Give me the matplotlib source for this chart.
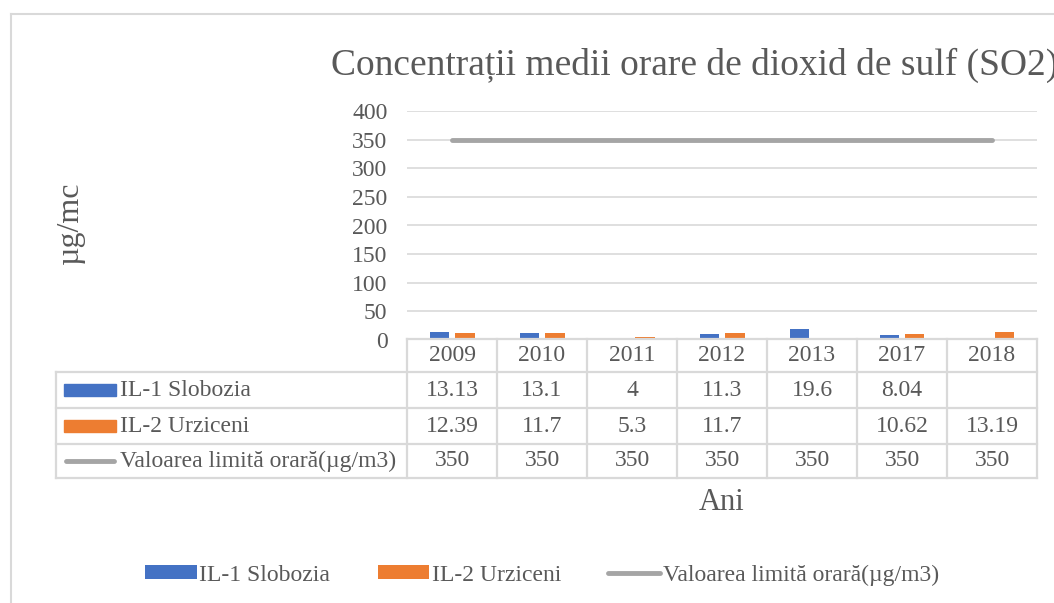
import matplotlib

matplotlib.use("Agg")
import matplotlib.pyplot as plt  # noqa: E402
import numpy as np  # noqa: E402
from matplotlib import transforms  # noqa: E402
from matplotlib.lines import Line2D  # noqa: E402
from matplotlib.patches import Rectangle  # noqa: E402

YEARS = ["2009", "2010", "2011", "2012", "2013", "2017", "2018"]
SLOBOZIA = [13.13, 13.1, 4, 11.3, 19.6, 8.04, np.nan]
URZICENI = [12.39, 11.7, 5.3, 11.7, np.nan, 10.62, 13.19]
LIMIT = [350, 350, 350, 350, 350, 350, 350]
SERIES = ["IL-1 Slobozia", "IL-2 Urziceni", "Valoarea limită orară(µg/m3)"]
YTICKS = [0, 50, 100, 150, 200, 250, 300, 350, 400]
TITLE = "Concentrații medii orare de dioxid de sulf (SO2)"
YLABEL = "µg/mc"
XLABEL = "Ani"

W, H = 1054, 603
BLUE, ORANGE, GREY = "#4472C4", "#ED7D31", "#A5A5A5"
TXT = "#595959"
GRID = "#D9D9D9"
FS = 17

plt.rcParams["font.family"] = ["Liberation Serif", "DejaVu Serif"]


def fx(px):
    return px / W


def fy(py):
    return 1 - py / H


fig = plt.figure(figsize=(W / 100, H / 100), dpi=100)

# chart frame (cut off on the right and bottom, like the screenshot)
fig.add_artist(Line2D([fx(11), fx(11)], [fy(14), 0], color=GRID, lw=1.5))
fig.add_artist(Line2D([fx(11), 1], [fy(14), fy(14)], color=GRID, lw=1.5))

ax = fig.add_axes([fx(407), fy(340), (1037 - 407) / W, (340 - 111) / H])
x = np.arange(len(YEARS))
b1 = ax.bar(x - 0.14, SLOBOZIA, 0.22, color=BLUE, zorder=2)
b2 = ax.bar(x + 0.14, URZICENI, 0.22, color=ORANGE, zorder=2)
(ln,) = ax.plot(x, LIMIT, color=GREY, lw=3.5, solid_capstyle="round", zorder=3)

ax.set_xlim(-0.5, len(YEARS) - 0.5)
ax.set_ylim(0, 400)
ax.set_yticks(YTICKS)
ax.set_xticks([])
ax.yaxis.grid(True, color=GRID, lw=1.2)
ax.set_axisbelow(True)
for s in ax.spines.values():
    s.set_visible(False)
ax.tick_params(axis="y", length=0, pad=14, labelsize=FS, labelcolor=TXT)

# data table under the plot
bt = transforms.blended_transform_factory(ax.transData, fig.transFigure)
ft = fig.transFigure
rows = [339, 372, 408, 444, 478]
kw = dict(color=GRID, lw=1.6, clip_on=False)
fig.add_artist(Line2D([-0.5, len(YEARS) - 0.5], [fy(rows[0])] * 2, transform=bt, **kw))
for r in rows[1:]:
    fig.add_artist(Line2D([fx(56), fx(1037)], [fy(r)] * 2, transform=ft, **kw))
for i in range(len(YEARS) + 1):
    fig.add_artist(Line2D([i - 0.5] * 2, [fy(rows[0]), fy(rows[-1])], transform=bt, **kw))
fig.add_artist(Line2D([fx(56)] * 2, [fy(rows[1]), fy(rows[-1])], transform=ft, **kw))


def cell(v):
    return "" if np.isnan(v) else f"{v:g}"


table = [YEARS, [cell(v) for v in SLOBOZIA], [cell(v) for v in URZICENI],
         [cell(v) for v in LIMIT]]
for r, vals in enumerate(table):
    yc = fy((rows[r] + rows[r + 1]) / 2)
    for i, t in enumerate(vals):
        fig.text(i, yc, t, transform=bt, ha="center", va="center",
                 fontsize=FS, color=TXT)

# series keys in the label column
for r, (name, col) in enumerate(zip(SERIES, [BLUE, ORANGE, GREY])):
    yc = (rows[r + 1] + rows[r + 2]) / 2
    if r < 2:
        fig.add_artist(Rectangle((fx(64), fy(yc + 6)), fx(52), 12 / H,
                                 transform=ft, color=col))
    else:
        fig.add_artist(Line2D([fx(66), fx(114)], [fy(yc)] * 2, transform=ft,
                              color=col, lw=3.5, solid_capstyle="round"))
    fig.text(fx(120), fy(yc), name, ha="left", va="center", fontsize=FS, color=TXT)

fig.text(fx(695), fy(65), TITLE, ha="center", va="center", fontsize=27, color=TXT)
fig.text(fx(70), fy(223), YLABEL, ha="center", va="center", rotation=90,
         fontsize=23, color=TXT)
fig.text(fx(722), fy(503), XLABEL, ha="center", va="center", fontsize=22, color=TXT)

fig.legend([b1, b2, ln], SERIES, loc="center", bbox_to_anchor=(fx(542), fy(575)),
           ncol=3, frameon=False, fontsize=FS, handlelength=2.2, handleheight=0.5,
           handletextpad=0.1, columnspacing=2.0, labelcolor=TXT)

fig.savefig("out.png", dpi=100)
